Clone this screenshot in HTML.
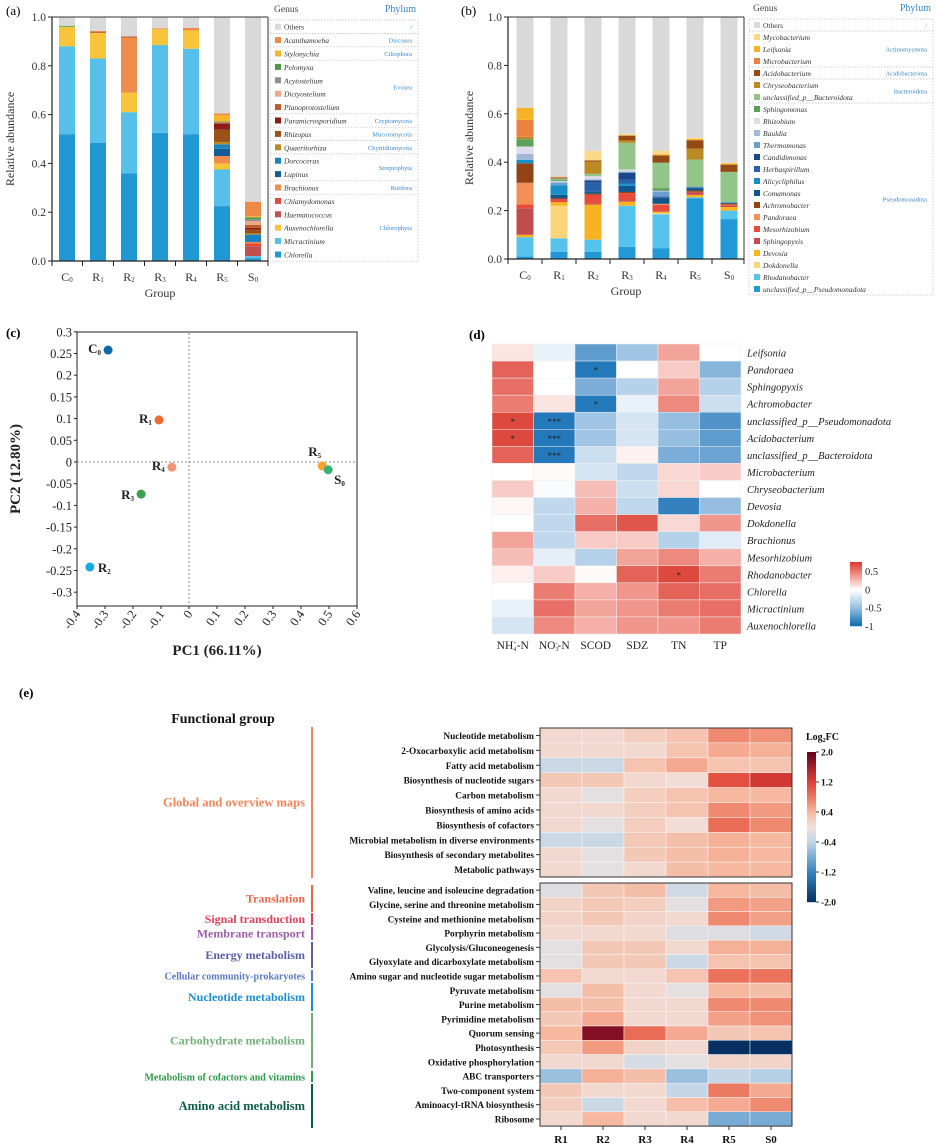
<!DOCTYPE html>
<html><head><meta charset="utf-8"><style>
body{margin:0;background:#fff}
svg{display:block;font-family:"Liberation Serif",serif}
</style></head><body>
<svg id="fig" width="939" height="1146" viewBox="0 0 939 1146" xmlns="http://www.w3.org/2000/svg"></svg>
<script>
// ---------- Panel (a) data ----------
const groupsA = ["C","R","R","R","R","R","S"];
const groupSubA = ["0","1","2","3","4","5","0"];
const generaA = ["Chlorella","Micractinium","Auxenochlorella","Haematococcus","Chlamydomonas","Brachionus","Lupinus","Dorcoceras","Quaeritorhiza","Rhizopus","Paramicrosporidium","Planoprotostelium","Dictyostelium","Acytostelium","Pelomyxa","Stylonychia","Acanthamoeba"];
const colorsA = ["#2098d4","#56c0ea","#f8c43c","#c0504d","#e04b3c","#f08c4c","#145c96","#1a82c1","#b88a22","#9b5219","#8d1c16","#c05a28","#f0a785","#909090","#4e9a4c","#f8b627","#ee8a47"];
const valsA_C0 = [0.52,0.36,0.08,0,0,0,0,0,0,0,0,0,0,0,0.004,0,0];
const valsA_R1 = [0.485,0.345,0.105,0,0,0,0,0,0,0,0,0.005,0,0,0,0,0.003];
const valsA_R2 = [0.36,0.25,0.08,0,0,0.225,0,0,0,0,0,0.005,0,0,0,0,0];
const valsA_R3 = [0.525,0.36,0.065,0,0,0,0,0,0,0,0,0,0,0,0,0,0.004];
const valsA_R4 = [0.52,0.35,0.075,0,0,0,0,0,0,0,0,0,0,0,0,0,0.01];
const valsA_R5 = [0.225,0.15,0.025,0,0,0.03,0.03,0.018,0.01,0.05,0.025,0.004,0,0.003,0.002,0.025,0.008];
const valsA_S0 = [0.012,0.008,0,0.04,0.012,0.006,0,0.03,0.005,0.015,0.008,0.012,0.015,0.008,0.008,0.004,0.06];
const legendA = ["Others","Acanthamoeba","Stylonychia","Pelomyxa","Acytostelium","Dictyostelium","Planoprotostelium","Paramicrosporidium","Rhizopus","Quaeritorhiza","Dorcoceras","Lupinus","Brachionus","Chlamydomonas","Haematococcus","Auxenochlorella","Micractinium","Chlorella"];
const phylaA = [["/",0,0],["Discosea",1,1],["Ciliophora",2,2],["Evosea",3,6],["Cryptomycota",7,7],["Mucoromycota",8,8],["Chytridiomycota",9,9],["Streptophyta",10,11],["Rotifera",12,12],["Chlorophyta",13,17]];
// ---------- Panel (b) data ----------
const generaB = ["unclassified_p__Pseudomonadota","Rhodanobacter","Dokdonella","Devosia","Sphingopyxis","Mesorhizobium","Pandoraea","Achromobacter","Comamonas","Alicycliphilus","Herbaspirillum","Candidimonas","Thermomonas","Bauldia","Rhizobium","Sphingomonas","unclassified_p__Bacteroidota","Chryseobacterium","Acidobacterium","Microbacterium","Leifsonia","Mycobacterium"];
const colorsB = ["#2199d6","#56c3ec","#fcd47a","#f8b320","#c24c4c","#e64b3b","#f29055","#924415","#13568c","#1790c8","#2a62aa","#18488a","#6a9fd0","#a2b8d8","#dcdcec","#5aa15a","#93c48a","#bc8a22","#934a14","#ee8040","#f7b226","#fbd98a"];
const valsB_C0 = [0.01,0.08,0,0.01,0.11,0.015,0.09,0.08,0,0.015,0,0,0,0.025,0.03,0.03,0,0.01,0,0.07,0.05,0];
const valsB_R1 = [0.03,0.055,0.135,0.015,0,0.015,0,0,0.015,0.04,0,0,0.01,0.005,0.003,0.005,0.005,0,0.003,0.004,0,0];
const valsB_R2 = [0.03,0.05,0,0.145,0.005,0.035,0,0.005,0.01,0,0.035,0.01,0,0.005,0.012,0,0.01,0.05,0.005,0,0,0.04];
const valsB_R3 = [0.05,0.17,0,0.017,0.005,0.03,0,0.005,0.025,0.01,0.015,0.03,0,0.005,0.008,0,0.11,0.01,0.02,0,0,0.007];
const valsB_R4 = [0.045,0.14,0.005,0.005,0.003,0.025,0.005,0,0.025,0,0.005,0,0.02,0.005,0,0.01,0.105,0,0.03,0,0.005,0.015];
const valsB_R5 = [0.25,0.005,0,0.01,0.01,0.003,0,0.005,0.01,0,0.003,0,0.003,0,0,0.002,0.11,0.045,0.035,0,0.005,0.005];
const valsB_S0 = [0.165,0.035,0,0.015,0.005,0.006,0,0.003,0.003,0.003,0,0,0,0,0,0,0.125,0,0.03,0,0.005,0.003];
const phylaB = [["/",0,0],["Actinomycetota",1,3],["Acidobacteriota",4,4],["Bacteroidota",5,6],["Pseudomonadota",7,22]];
// ---------- Panel (c) data ----------
const pcaLabels = ["C","R","R","R","R","R","S"];
const pcaSubs = ["0","1","2","3","4","5","0"];
const pc1 = [-0.289,-0.107,-0.354,-0.171,-0.061,0.476,0.497];
const pc2 = [0.258,0.097,-0.242,-0.074,-0.012,-0.009,-0.018];
const pcaColors = ["#0e6aa6","#ec6a36","#1aa9e6","#3ea04e","#f29478","#f7a52a","#3dae7a"];
const xTicksC = [-0.4,-0.3,-0.2,-0.1,0,0.1,0.2,0.3,0.4,0.5,0.6];
const yTicksC = [0.3,0.25,0.2,0.15,0.1,0.05,0,-0.05,-0.1,-0.15,-0.2,-0.25,-0.3];
// ---------- Panel (d) data ----------
const rowsD = ["Leifsonia","Pandoraea","Sphingopyxis","Achromobacter","unclassified_p__Pseudomonadota","Acidobacterium","unclassified_p__Bacteroidota","Microbacterium","Chryseobacterium","Devosia","Dokdonella","Brachionus","Mesorhizobium","Rhodanobacter","Chlorella","Micractinium","Auxenochlorella"];
const colsD = ["NH4+-N","NO3--N","SCOD","SDZ","TN","TP"];
const corrD = [
[0.1,-0.1,-0.7,-0.45,0.35,0],[0.6,0,-0.9,0,0.2,-0.55],[0.55,0,-0.6,-0.35,0.35,-0.35],[0.5,0.1,-0.9,-0.1,0.45,-0.25],
[0.7,-0.9,-0.45,-0.2,-0.5,-0.75],[0.7,-0.9,-0.45,-0.2,-0.5,-0.7],[0.6,-0.9,-0.25,0.05,-0.6,-0.65],[0,0.02,-0.2,-0.3,0.15,0.2],
[0.2,-0.03,0.25,-0.25,0.15,0],[0.03,-0.3,0.3,-0.3,-0.85,-0.5],[0,-0.3,0.55,0.65,0.15,0.4],[0.35,-0.3,0.2,0.2,-0.35,-0.15],
[0.25,-0.12,-0.35,0.35,0.45,0.3],[0.06,0.2,0.02,0.6,0.7,0.5],[0,0.5,0.3,0.4,0.6,0.55],[-0.1,0.55,0.35,0.4,0.5,0.55],[-0.2,0.45,0.3,0.4,0.4,0.5]];
const starsD = [["","","","","",""],["","","*","","",""],["","","","","",""],["","","*","","",""],["*","***","","","",""],["*","***","","","",""],["","***","","","",""],["","","","","",""],["","","","","",""],["","","","","",""],["","","","","",""],["","","","","",""],["","","","","",""],["","","","","*",""],["","","","","",""],["","","","","",""],["","","","","",""]];
// ---------- Panel (e) data ----------
const colsE = ["R1","R2","R3","R4","R5","S0"];
const rowsE1 = ["Nucleotide metabolism","2-Oxocarboxylic acid metabolism","Fatty acid metabolism","Biosynthesis of nucleotide sugars","Carbon metabolism","Biosynthesis of amino acids","Biosynthesis of cofactors","Microbial metabolism in diverse environments","Biosynthesis of secondary metabolites","Metabolic pathways"];
const valsE1 = [[0.1,0.1,0.2,0.3,0.7,0.65],[0.1,0.1,0.1,0.3,0.5,0.45],[-0.3,-0.3,0.3,0.5,0.3,0.3],[0.25,0.25,0.1,0.05,1.1,1.3],[0.1,-0.1,0.2,0.3,0.4,0.4],[0.1,0.1,0.2,0.3,0.7,0.6],[0.1,-0.1,0.2,0.05,0.9,0.7],[-0.3,-0.3,0.25,0.35,0.45,0.4],[0.1,-0.1,0.25,0.35,0.45,0.4],[0.1,-0.1,0.1,0.35,0.4,0.4]];
const rowsE2 = ["Valine, leucine and isoleucine degradation","Glycine, serine and threonine metabolism","Cysteine and methionine metabolism","Porphyrin metabolism","Glycolysis/Gluconeogenesis","Glyoxylate and dicarboxylate metabolism","Amino sugar and nucleotide sugar metabolism","Pyruvate metabolism","Purine metabolism","Pyrimidine metabolism","Quorum sensing","Photosynthesis","Oxidative phosphorylation","ABC transporters","Two-component system","Aminoacyl-tRNA biosynthesis","Ribosome"];
const valsE2 = [[-0.15,0.25,0.35,-0.25,0.4,0.35],[0.15,0.25,0.2,-0.1,0.6,0.55],[0.15,0.25,0.15,0.1,0.7,0.55],[0.1,0.1,0.1,-0.15,-0.15,-0.25],[-0.1,0.25,0.25,0.1,0.45,0.45],[-0.1,0.25,0.25,-0.3,0.3,0.3],[0.3,0.1,0.1,0.3,0.85,0.85],[-0.1,0.35,0.1,-0.1,0.4,0.35],[0.35,0.35,0.1,0.1,0.7,0.7],[0.25,0.5,0.1,0.1,0.55,0.65],[0.4,1.8,0.9,0.5,0.25,0.3],[0.25,0.6,0.15,0.1,-2,-2],[0.1,0.1,-0.2,-0.1,0.15,0.15],[-0.6,0.45,0.35,-0.6,-0.35,-0.45],[0.25,0.1,0.1,-0.35,0.8,0.5],[0.2,-0.3,0.1,0.35,0.5,0.7],[0.1,0.4,0.1,0.1,-0.8,-0.8]];
const groupsE = [["Global and overview maps",727,878,"#f0855a",12.5],["Translation",885,912,"#e8664c",12],["Signal transduction",913,925,"#d9415a",12],["Membrane transport",927,940,"#9b5ea8",12],["Energy metabolism",942,968,"#5b5ea6",12],["Cellular community-prokaryotes",970,981,"#5a7ac0",10],["Nucleotide metabolism",983,1011,"#1a8fd0",12],["Carbohydrate metabolism",1013,1068,"#72b07a",12],["Metabolism of cofactors and vitamins",1071,1082,"#2e9a4a",10],["Amino acid metabolism",1084,1128,"#0e5e46",12.5]];
const cbTicksE = [2.0,1.2,0.4,-0.4,-1.2,-2.0];

const NS="http://www.w3.org/2000/svg";
const svg=document.getElementById('fig');
function mk(tag,attrs,parent,txt){const e=document.createElementNS(NS,tag);for(const k in attrs)e.setAttribute(k,attrs[k]);if(txt!==undefined)e.textContent=txt;(parent||svg).appendChild(e);return e;}
function grp(name,parent){const g=mk('g',{},parent);return g;}
function lerp(a,b,t){return a.map((v,i)=>Math.round(v+(b[i]-v)*t));}
function cmap(stops,v){for(let i=0;i<stops.length-1;i++){if(v<=stops[i+1][0]){const t=(v-stops[i][0])/(stops[i+1][0]-stops[i][0]);return 'rgb('+lerp(stops[i][1],stops[i+1][1],Math.max(0,Math.min(1,t))).join(',')+')';}}return 'rgb('+stops[stops.length-1][1].join(',')+')';}
const stopsD=[[-1,[8,104,176]],[-0.5,[150,190,225]],[0,[255,255,255]],[0.4,[240,150,140]],[0.75,[218,60,50]]];
const stopsE=[[-2,[5,48,97]],[-1.2,[50,130,190]],[-0.4,[190,212,232]],[0,[240,226,222]],[0.4,[246,185,160]],[0.8,[236,122,96]],[1.2,[224,66,55]],[2,[103,0,31]]];

function panelLabel(t,x,y,bold){const e=mk('text',{x:x,y:y,'font-size':13,'font-weight':bold?'bold':'normal'},svg,t);}

// ---- stacked bar panel ----
function stacked(opts){
  const g=grp(opts.name);
  const {x0,x1,y0,y1,cx,bw}=opts;
  const ys=v=>y1-(y1-y0)*v;
  opts.data.forEach((vals,i)=>{
    let acc=0;
    const bar=grp('bar-'+opts.cats[i]+opts.subs[i],g);
    vals.forEach((v,k)=>{if(v<=0)return;const r=mk('rect',{x:cx(i)-bw/2,y:ys(acc+v),width:bw,height:ys(acc)-ys(acc+v),fill:opts.colors[k]},bar);acc+=v;});
    const o=mk('rect',{x:cx(i)-bw/2,y:ys(1),width:bw,height:ys(acc)-ys(1),fill:'#d9d9d9'},bar);
    
  });
  const ax=grp('axes',g);
  mk('line',{x1:x0,y1:y0,x2:x1,y2:y0,stroke:'#333','stroke-width':1},ax);
  mk('line',{x1:x1,y1:y0,x2:x1,y2:y1,stroke:'#333','stroke-width':1},ax);
  mk('line',{x1:x0,y1:y0,x2:x0,y2:y1+1,stroke:'#222','stroke-width':1.2},ax);
  mk('line',{x1:x0,y1:y1,x2:x1,y2:y1,stroke:'#222','stroke-width':1.2},ax);
  [0,0.2,0.4,0.6,0.8,1].forEach(t=>{mk('line',{x1:x0-4,y1:ys(t),x2:x0,y2:ys(t),stroke:'#222'},ax);const e=mk('text',{x:x0-6,y:ys(t)+4,'font-size':11.5,'text-anchor':'end',fill:'#333'},ax,t.toFixed(1));});
  for(let i=0;i<=opts.cats.length;i++){const xx=i===0?x0:(i===opts.cats.length?x1:(cx(i-1)+cx(i))/2);mk('line',{x1:xx,y1:y1,x2:xx,y2:y1+5,stroke:'#222'},ax);}
  opts.cats.forEach((c,i)=>{const t=mk('text',{x:cx(i),y:y1+20,'font-size':12,'text-anchor':'middle',fill:'#333'},ax);mk('tspan',{},t,c);mk('tspan',{'font-size':7,dy:1},t,opts.subs[i]);});
  const gt=mk('text',{x:(x0+x1)/2,y:y1+36,'font-size':12,'text-anchor':'middle',fill:'#333'},ax,'Group');
  const yt=mk('text',{x:0,y:0,'font-size':12,'text-anchor':'middle',fill:'#333',transform:`translate(${opts.ytx},${(y0+y1)/2}) rotate(-90)`},ax,'Relative abundance');
  const L=grp('legend',g);const lx=opts.lx,ly=opts.ly,lw=opts.lw,rh=opts.rh,n=opts.legend.length;
  mk('text',{x:lx+4,y:ly-8,'font-size':9.5,fill:'#444'},L,'Genus');
  mk('text',{x:lx+lw-2,y:ly-8,'font-size':10,fill:'#3a86c4','text-anchor':'end'},L,'Phylum');
  mk('rect',{x:lx,y:ly,width:lw,height:n*rh,fill:'none',stroke:'#bbb','stroke-dasharray':'1.5,1.5','stroke-width':0.7},L);
  opts.legend.forEach((nm,k)=>{const yy=ly+k*rh;const col=k===0?'#d9d9d9':opts.legendColors[k];
    const e=grp('legend-entry-'+nm,L);
    mk('rect',{x:lx+5,y:yy+rh/2-3,width:6,height:6,fill:col},e);
    mk('text',{x:lx+14,y:yy+rh/2+3,'font-size':opts.fs,'font-style':k===0?'normal':'italic',fill:'#333'},e,nm);});
  opts.phyla.forEach(([p,a,b],k)=>{if(k>0)mk('line',{x1:lx,y1:ly+a*rh,x2:lx+lw,y2:ly+a*rh,stroke:'#bbb','stroke-dasharray':'1.5,1.5','stroke-width':0.7},L);
    const t=mk('text',{x:lx+lw-6,y:ly+(a+b+1)/2*rh+2.5,'font-size':opts.fs-1,fill:'#3a86c4','text-anchor':'end'},L,p);});
}
const dataA=[valsA_C0,valsA_R1,valsA_R2,valsA_R3,valsA_R4,valsA_R5,valsA_S0];
const legColA=['#d9d9d9'].concat(colorsA.slice().reverse());
panelLabel('(a)',6,15,false);
stacked({name:'panel-a-genus-bar-chart',x0:52,x1:268,y0:17,y1:261,cx:i=>67+i*31,bw:16,data:dataA,colors:colorsA,genera:generaA,cats:groupsA,subs:groupSubA,ytx:14,lx:270,ly:20,lw:148,rh:13.4,fs:7.5,legend:legendA,legendColors:legColA,phyla:phylaA});
const dataB=[valsB_C0,valsB_R1,valsB_R2,valsB_R3,valsB_R4,valsB_R5,valsB_S0];
const legendB=['Others'].concat(generaB.slice().reverse());
const legColB=['#d9d9d9'].concat(colorsB.slice().reverse());
panelLabel('(b)',461,15,false);
stacked({name:'panel-b-genus-bar-chart',x0:508,x1:744,y0:17,y1:259,cx:i=>525+i*34,bw:17,data:dataB,colors:colorsB,genera:generaB,cats:groupsA,subs:groupSubA,ytx:473,lx:749,ly:19,lw:184,rh:12,fs:7.5,legend:legendB,legendColors:legColB,phyla:phylaB});

// ---- panel c ----
(function(){
  const g=grp('panel-c-pca-plot');panelLabel('(c)',6,337,true);
  const X0=77,X1=357,Y0=333,Y1=606;
  const xs=v=>X0+(v+0.4)*280;const ys=v=>462-v*434;
  mk('rect',{x:X0,y:Y0-1,width:X1-X0,height:Y1-Y0+1,fill:'none',stroke:'#222','stroke-width':1},g);
  mk('line',{x1:xs(0),y1:Y0,x2:xs(0),y2:Y1,stroke:'#888','stroke-dasharray':'2,2'},g);
  mk('line',{x1:X0,y1:ys(0),x2:X1,y2:ys(0),stroke:'#888','stroke-dasharray':'2,2'},g);
  yTicksC.forEach(t=>{mk('line',{x1:X0-3,y1:ys(t),x2:X0,y2:ys(t),stroke:'#222'},g);const e=mk('text',{x:X0-5,y:ys(t)+4.5,'font-size':12.5,'text-anchor':'end',fill:'#222'},g,String(t));});
  xTicksC.forEach(t=>{mk('line',{x1:xs(t),y1:Y1,x2:xs(t),y2:Y1+3,stroke:'#222'},g);const e=mk('text',{x:0,y:0,'font-size':12.5,'text-anchor':'end',fill:'#222',transform:`translate(${xs(t)+4},${Y1+8}) rotate(-55)`},g,String(t));});
  const xt=mk('text',{x:217,y:655,'font-size':15,'font-weight':'bold','text-anchor':'middle',fill:'#222'},g,'PC1 (66.11%)');
  const yt=mk('text',{x:0,y:0,'font-size':15,'font-weight':'bold','text-anchor':'middle',fill:'#222',transform:'translate(20,469) rotate(-90)'},g,'PC2 (12.80%)');
  const off=[[-20,3],[-20,3],[8,5],[-20,5],[-20,3],[-14,-10],[6,14]];
  pc1.forEach((v,i)=>{const p=grp('point-'+pcaLabels[i]+pcaSubs[i],g);mk('circle',{cx:xs(v),cy:ys(pc2[i]),r:4.5,fill:pcaColors[i]},p);
    const t=mk('text',{x:xs(v)+off[i][0],y:ys(pc2[i])+off[i][1],'font-size':13,'font-weight':'bold',fill:'#222'},p);mk('tspan',{},t,pcaLabels[i]);mk('tspan',{'font-size':7,dy:2},t,pcaSubs[i]);});
})();

// ---- panel d ----
(function(){
  const g=grp('panel-d-correlation-heatmap');panelLabel('(d)',469,339,true);
  const X0=492,Y0=344,cw=41.5,rh=17.06;
  corrD.forEach((row,r)=>row.forEach((v,c)=>{const cell=mk('rect',{x:X0+c*cw,y:Y0+r*rh,width:cw,height:rh,fill:cmap(stopsD,v),stroke:'#eee','stroke-width':0.5},g);
    const s=starsD[r][c].trim();if(s)mk('text',{x:X0+c*cw+cw/2,y:Y0+r*rh+rh/2+4,'font-size':9,'text-anchor':'middle',fill:'#222'},g,s);}));
  rowsD.forEach((n,r)=>{const e=mk('text',{x:747,y:Y0+r*rh+rh/2+4,'font-size':10.5,'font-style':'italic',fill:'#222'},g,n);});
  const lab=[["NH","4","+","-N"],["NO","3","-","-N"],["SCOD"],["SDZ"],["TN"],["TP"]];
  lab.forEach((l,c)=>{const t=mk('text',{x:X0+c*cw+cw/2,y:649,'font-size':11.5,'text-anchor':'middle',fill:'#222'},g);
    mk('tspan',{},t,l[0]);if(l.length>1){mk('tspan',{'font-size':6,dy:2},t,l[1]);mk('tspan',{'font-size':6,dy:-6,dx:-3},t,l[2]);mk('tspan',{dy:4},t,l[3]);}});
  const cb=grp('colorbar',g);
  for(let i=0;i<64;i++){const v=0.75-i*(1.75/64);mk('rect',{x:850,y:562+i,width:12,height:1.2,fill:cmap(stopsD,v)},cb);}
  [0.5,0,-0.5,-1].forEach(v=>{const y=562+(0.75-v)/1.75*64;mk('text',{x:865,y:y+4,'font-size':10.5,fill:'#222'},cb,String(v));});
})();

// ---- panel e ----
(function(){
  const g=grp('panel-e-kegg-heatmap');panelLabel('(e)',19,697,true);
  const ft=mk('text',{x:223,y:723,'font-size':14,'font-weight':'bold','text-anchor':'middle',fill:'#111'},g,'Functional group');
  const X0=540,cw=42;
  function block(rows,vals,Y0,rh,name){const b=grp(name,g);
    vals.forEach((row,r)=>row.forEach((v,c)=>{const cell=mk('rect',{x:X0+c*cw,y:Y0+r*rh,width:cw,height:rh,fill:cmap(stopsE,v),stroke:'#f6f6f6','stroke-width':0.5},b);}));
    mk('rect',{x:X0,y:Y0,width:cw*6,height:rh*rows.length,fill:'none',stroke:'#333','stroke-width':1},b);
    rows.forEach((n,r)=>{mk('line',{x1:X0-4,y1:Y0+r*rh+rh/2,x2:X0,y2:Y0+r*rh+rh/2,stroke:'#333'},b);const e=mk('text',{x:X0-6,y:Y0+r*rh+rh/2+3.5,'font-size':9.3,'font-weight':'bold','text-anchor':'end',fill:'#111'},b,n);});}
  block(rowsE1,valsE1,728,14.9,'heatmap-global-maps');
  block(rowsE2,valsE2,883,14.3,'heatmap-pathways');
  colsE.forEach((c,i)=>{mk('line',{x1:X0+i*cw+cw/2,y1:1126,x2:X0+i*cw+cw/2,y2:1130,stroke:'#333'},g);const e=mk('text',{x:X0+i*cw+cw/2,y:1143,'font-size':11,'font-weight':'bold','text-anchor':'middle',fill:'#111'},g,c);});
  groupsE.forEach(([n,a,b,col,fs])=>{const e=grp('group-'+n,g);mk('rect',{x:311,y:a,width:2,height:b-a,fill:col},e);mk('text',{x:305,y:(a+b)/2+4,'font-size':fs,'font-weight':'bold','text-anchor':'end',fill:col},e,n);});
  const cb=grp('colorbar',g);
  const lt=mk('text',{x:806,y:740,'font-size':10,'font-weight':'bold',fill:'#111'},cb);mk('tspan',{},lt,'Log');mk('tspan',{'font-size':6,dy:2},lt,'2');mk('tspan',{dy:-2},lt,'FC');
  for(let i=0;i<150;i++){const v=2-i*(4/150);mk('rect',{x:807,y:752+i,width:9,height:1.2,fill:cmap(stopsE,v)},cb);}
  cbTicksE.forEach(v=>{const y=752+(2-v)/4*150;mk('line',{x1:816,y1:y,x2:819,y2:y,stroke:'#333'},cb);mk('text',{x:821,y:y+3.5,'font-size':9.5,'font-weight':'bold',fill:'#111'},cb,v.toFixed(1));});
})();
</script>
</body></html>
